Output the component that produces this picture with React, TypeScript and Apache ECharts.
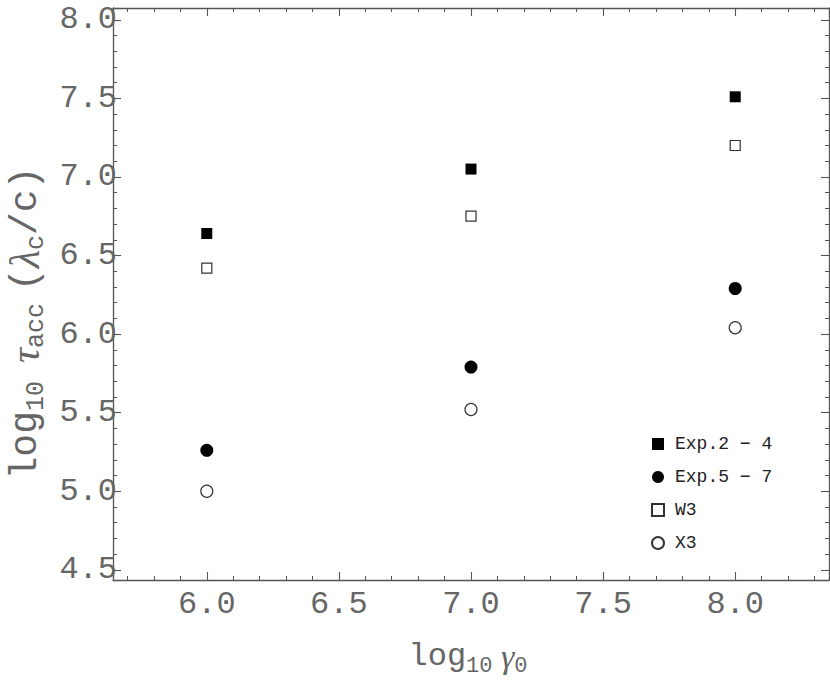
import React, { useEffect, useRef } from 'react';
import * as echarts from 'echarts';

// Data
const gammaLog = [6, 7, 8];
const exp24 = [6.64, 7.05, 7.51];
const exp57 = [5.26, 5.79, 6.29];
const w3 = [6.42, 6.75, 7.2];
const x3 = [5.0, 5.52, 6.04];
const seriesNames = ['Exp.2 − 4', 'Exp.5 − 7', 'W3', 'X3'];
const xRange = [5.645, 8.355];
const yRange = [4.435, 8.075];

const MONO = '"Liberation Mono", "DejaVu Sans Mono", monospace';
const SERIF = '"Liberation Serif", "DejaVu Serif", serif';
const AXIS_COLOR = '#555';
const TEXT_COLOR = '#666';

const pairs = (ys: number[]) => gammaLog.map((x, i) => [x, ys[i]]);
const fmt = (v: number) =>
  Math.abs(v * 2 - Math.round(v * 2)) < 1e-6 ? v.toFixed(1) : '';

function makeAxis(pos: string, range: number[], split: number, showLabel: boolean, margin: number) {
  return {
    type: 'value',
    position: pos,
    min: range[0],
    max: range[1],
    splitNumber: split,
    minInterval: 0.5,
    maxInterval: 0.5,
    axisLine: { show: true, onZero: false, lineStyle: { color: AXIS_COLOR, width: 1.3 } },
    axisTick: { show: true, inside: true, length: 8, lineStyle: { color: AXIS_COLOR, width: 1.1 } },
    minorTick: { show: true, splitNumber: 5, length: 4, lineStyle: { color: AXIS_COLOR, width: 1 } },
    splitLine: { show: false },
    minorSplitLine: { show: false },
    axisLabel: {
      show: showLabel,
      formatter: fmt,
      showMinLabel: false,
      showMaxLabel: false,
      fontFamily: MONO,
      fontSize: 32,
      color: TEXT_COLOR,
      margin,
    },
  };
}

function richFor(main: number, greek: number, sub: number, lh: number, sp: number, sp2: number) {
  return {
    a: { fontFamily: MONO, fontSize: main, fill: TEXT_COLOR, lineHeight: lh, verticalAlign: 'middle' },
    g: { fontFamily: SERIF, fontStyle: 'italic', fontSize: greek, fill: TEXT_COLOR, lineHeight: lh, verticalAlign: 'middle' },
    s: { fontFamily: MONO, fontSize: sub, fill: TEXT_COLOR, lineHeight: sub, verticalAlign: 'bottom' },
    sp: { fontFamily: MONO, fontSize: sp, fill: TEXT_COLOR, lineHeight: lh, verticalAlign: 'middle' },
    sp2: { fontFamily: MONO, fontSize: sp2, fill: TEXT_COLOR, lineHeight: lh, verticalAlign: 'middle' },
  };
}

export default function App() {
  const ref = useRef<HTMLDivElement>(null);
  useEffect(() => {
    if (!ref.current) return;
    const chart = echarts.init(ref.current, undefined, { renderer: 'svg' });
    const option = {
      animation: false,
      backgroundColor: '#fff',
      grid: { left: 113, top: 8, right: 1, bottom: 100, containLabel: false },
      xAxis: [
        makeAxis('bottom', xRange, 5, true, 8),
        makeAxis('top', xRange, 5, false, 8),
      ],
      yAxis: [
        makeAxis('left', yRange, 7, true, -4),
        makeAxis('right', yRange, 7, false, 8),
      ],
      legend: {
        orient: 'vertical',
        left: 651,
        top: 435,
        padding: 0,
        itemWidth: 12,
        itemHeight: 12,
        itemGap: 15,
        symbolKeepAspect: true,
        textStyle: { fontFamily: MONO, fontSize: 18, color: '#222', padding: [0, 0, 0, 6] },
        data: seriesNames,
      },
      graphic: [
        {
          type: 'text',
          x: 468,
          y: 656,
          style: {
            text: '{a|log}{s|10}{sp2| }{g|γ}{s|0}',
            rich: richFor(32, 34, 22, 42, 18, 14),
            fill: TEXT_COLOR,
            align: 'center',
            verticalAlign: 'middle',
          },
        },
        {
          type: 'text',
          x: 25,
          y: 323,
          rotation: Math.PI / 2,
          style: {
            text: '{a|log}{s|10}{sp| }{g|τ}{s|acc}{sp2| }{a|(}{g|λ}{s|c}{a|/c)}',
            rich: richFor(38, 42, 25, 48, 30, 20),
            fill: TEXT_COLOR,
            align: 'center',
            verticalAlign: 'middle',
          },
        },
      ],
      series: [
        {
          name: seriesNames[0],
          type: 'scatter',
          symbol: 'rect',
          symbolSize: 11,
          itemStyle: { color: '#000', opacity: 1 },
          data: pairs(exp24),
        },
        {
          name: seriesNames[1],
          type: 'scatter',
          symbol: 'circle',
          symbolSize: 13,
          itemStyle: { color: '#000', opacity: 1 },
          data: pairs(exp57),
        },
        {
          name: seriesNames[2],
          type: 'scatter',
          symbol: 'rect',
          symbolSize: 10,
          itemStyle: { color: '#fff', borderColor: '#333', borderWidth: 1.2, opacity: 1 },
          data: pairs(w3),
        },
        {
          name: seriesNames[3],
          type: 'scatter',
          symbol: 'circle',
          symbolSize: 12,
          itemStyle: { color: '#fff', borderColor: '#333', borderWidth: 1.2, opacity: 1 },
          data: pairs(x3),
        },
      ],
    };
    chart.setOption(option as any);
    return () => chart.dispose();
  }, []);
  return (
    <div
      ref={ref}
      style={{ position: 'fixed', left: 0, top: 0, width: 830, height: 680, background: '#fff' }}
    />
  );
}
